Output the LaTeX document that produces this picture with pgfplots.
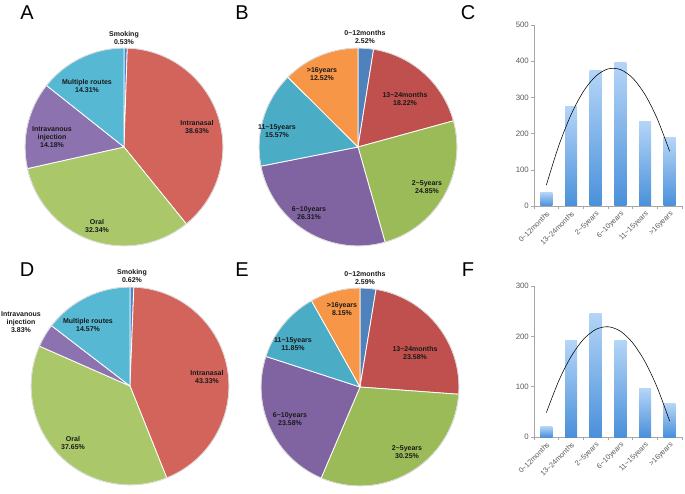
\documentclass[border=0pt]{standalone}
\usepackage{pgfplots}
\pgfplotsset{compat=1.18}
\usepackage{fontspec}
\setmainfont{Liberation Sans}

% palettes
\definecolor{aBlue}{HTML}{4A86C8}
\definecolor{aRed}{HTML}{D2645C}
\definecolor{aGreen}{HTML}{AAC86A}
\definecolor{aPurple}{HTML}{8D72B0}
\definecolor{aCyan}{HTML}{57B8D4}
\definecolor{bBlue}{HTML}{4F81BD}
\definecolor{bRed}{HTML}{C0504D}
\definecolor{bGreen}{HTML}{9BBB59}
\definecolor{bPurple}{HTML}{8064A2}
\definecolor{bAqua}{HTML}{4BACC6}
\definecolor{bOrange}{HTML}{F79646}
\definecolor{barTop}{HTML}{B4D5F7}
\definecolor{barBot}{HTML}{4A90DA}
\definecolor{tickgray}{HTML}{595959}
\definecolor{axgray}{HTML}{A6A6A6}

\newcommand\tl{\textasciitilde}
\def\R{99pt}

% slices clockwise from 12 o'clock, list of percent/colour
\newcommand\drawpie[1]{%
  \gdef\cum{0}%
  \foreach \v/\c in {#1} {%
    \pgfmathsetmacro\a{90-3.6*\cum}%
    \pgfmathsetmacro\d{-3.6*\v}%
    \edef\temp{\noexpand\fill[\c, draw=white, line width=0.8pt, line join=round]
      (axis cs:0,0) -- ++(\a:\R) arc[start angle=\a, delta angle=\d, radius=\R] -- cycle;}%
    \temp
    \pgfmathsetmacro\newcum{\cum+\v}\global\let\cum\newcum
  }%
  \draw[black!18, line width=0.6pt] (axis cs:0,0) circle[radius=\R];
}

\tikzset{
  lbl/.style={font=\bfseries\fontsize{7}{8.2}\selectfont, align=center, text=black!90, inner sep=0pt},
  panel/.style={font=\fontsize{20}{22}\selectfont, inner sep=0pt},
}

\pgfplotsset{
  pie/.style={hide axis, scale only axis, width=198pt, height=198pt,
    xmin=-1, xmax=1, ymin=-1, ymax=1, anchor=center, clip=false},
  onebar/.style={ybar, bar width=12pt, draw=none, top color=barTop, bottom color=barBot},
  bars/.style={scale only axis, anchor=south west, width=148pt,
    xmin=0.5, xmax=6.5, ymin=0,
    axis x line*=bottom, axis y line*=left,
    axis line style={axgray, line width=0.5pt},
    tick style={axgray, line width=0.5pt},
    xtick={1,...,6}, major x tick style={draw=none},
    minor xtick={0.5,1.5,...,6.5}, minor tick length=3pt,
    major tick length=3pt, tick align=outside,
    xticklabels={0\tl12months,13\tl24months,2\tl5years,6\tl10years,11\tl15years,>16years},
    x tick label style={rotate=45, anchor=north east, font=\fontsize{7.3}{8}\selectfont, text=tickgray, inner sep=1pt},
    y tick label style={font=\fontsize{7.8}{8}\selectfont, text=tickgray, inner sep=1pt, xshift=-1pt},
    /pgf/number format/assume math mode=true,
    clip=false},
}

\begin{document}
\begin{tikzpicture}
\useasboundingbox (0,0) rectangle (685pt,-494pt);

% ---------- A ----------
\node[panel] at (27pt,-13pt) {A};
\begin{axis}[pie, at={(124pt,-147pt)}]
  \drawpie{0.53/aBlue, 38.63/aRed, 32.34/aGreen, 14.18/aPurple, 14.31/aCyan}
\end{axis}
\node[lbl] at (124pt,-38pt) {Smoking\\0.53\%};
\node[lbl] at (197pt,-127pt) {Intranasal\\38.63\%};
\node[lbl] at (97pt,-226pt) {Oral\\32.34\%};
\node[lbl] at (52pt,-137pt) {Intravanous\\injection\\14.18\%};
\node[lbl] at (87pt,-86pt) {Multiple routes\\14.31\%};

% ---------- B ----------
\node[panel] at (242pt,-13pt) {B};
\begin{axis}[pie, at={(358pt,-147pt)}]
  \drawpie{2.52/bBlue, 18.22/bRed, 24.85/bGreen, 26.31/bPurple, 15.57/bAqua, 12.52/bOrange}
\end{axis}
\node[lbl] at (365pt,-37pt) {0\tl12months\\2.52\%};
\node[lbl] at (405pt,-99pt) {13\tl24months\\18.22\%};
\node[lbl] at (427pt,-187pt) {2\tl5years\\24.85\%};
\node[lbl] at (309pt,-213pt) {6\tl10years\\26.31\%};
\node[lbl] at (277pt,-131pt) {11\tl15years\\15.57\%};
\node[lbl] at (322pt,-74pt) {>16years\\12.52\%};

% ---------- C ----------
\node[panel] at (468pt,-13pt) {C};
\begin{axis}[bars, at={(534pt,-206pt)}, height=181pt, ymax=500,
    ytick={0,100,200,300,400,500}]
  \addplot[onebar] coordinates {(1,38)};
  \addplot[onebar] coordinates {(2,274)};
  \addplot[onebar] coordinates {(3,374)};
  \addplot[onebar] coordinates {(4,396)};
  \addplot[onebar] coordinates {(5,234)};
  \addplot[onebar] coordinates {(6,188)};
  \addplot[black, line width=0.55pt, smooth, no marks]
    coordinates {(1,57.7) (1.5,165.8) (2,252) (2.5,316.2) (3,358.4) (3.5,378.7)
                 (4,377) (4.5,353.4) (5,307.8) (5.5,240.4) (6,150.9)};
\end{axis}

% ---------- D ----------
\node[panel] at (27pt,-270pt) {D};
\begin{axis}[pie, at={(130pt,-386pt)}]
  \drawpie{0.62/aBlue, 43.33/aRed, 37.65/aGreen, 3.83/aPurple, 14.57/aCyan}
\end{axis}
\node[lbl] at (132pt,-276pt) {Smoking\\0.62\%};
\node[lbl] at (207pt,-377pt) {Intranasal\\43.33\%};
\node[lbl] at (73pt,-443pt) {Oral\\37.65\%};
\node[lbl] at (21pt,-322pt) {Intravanous\\injection\\3.83\%};
\node[lbl] at (88pt,-325pt) {Multiple routes\\14.57\%};

% ---------- E ----------
\node[panel] at (242pt,-270pt) {E};
\begin{axis}[pie, at={(360pt,-387pt)}]
  \drawpie{2.59/bBlue, 23.58/bRed, 30.25/bGreen, 23.58/bPurple, 11.85/bAqua, 8.15/bOrange}
\end{axis}
\node[lbl] at (365pt,-278pt) {0\tl12months\\2.59\%};
\node[lbl] at (415pt,-353pt) {13\tl24months\\23.58\%};
\node[lbl] at (407pt,-452pt) {2\tl5years\\30.25\%};
\node[lbl] at (290pt,-419pt) {6\tl10years\\23.58\%};
\node[lbl] at (293pt,-344pt) {11\tl15years\\11.85\%};
\node[lbl] at (342pt,-309pt) {>16years\\8.15\%};

% ---------- F ----------
\node[panel] at (468pt,-270pt) {F};
\begin{axis}[bars, at={(534pt,-437pt)}, height=151pt, ymax=300,
    ytick={0,100,200,300}]
  \addplot[onebar] coordinates {(1,21)};
  \addplot[onebar] coordinates {(2,192)};
  \addplot[onebar] coordinates {(3,246)};
  \addplot[onebar] coordinates {(4,192)};
  \addplot[onebar] coordinates {(5,96)};
  \addplot[onebar] coordinates {(6,66)};
  \addplot[black, line width=0.55pt, smooth, no marks]
    coordinates {(1,48.4) (1.5,111.2) (2,159.6) (2.5,193.8) (3,213.6) (3.5,219.1)
                 (4,210.3) (4.5,187.1) (5,149.6) (5.5,97.8) (6,31.6)};
\end{axis}
\end{tikzpicture}
\end{document}
